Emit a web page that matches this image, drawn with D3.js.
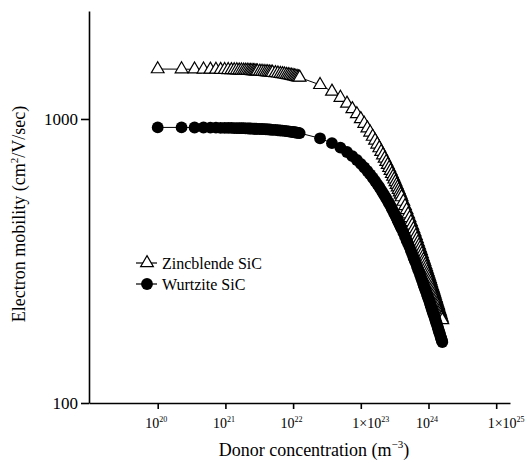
<!DOCTYPE html>
<html>
<head>
<meta charset="utf-8">
<script src="https://cdn.jsdelivr.net/npm/d3@7"></script>
<style>
  body { margin: 0; background: #fff; }
  svg text { font-family: "Liberation Serif", "Times New Roman", Times, "DejaVu Serif", serif !important; fill: #000 !important; }
</style>
</head>
<body>
<svg id="chart" width="530" height="463"></svg>
<script>
// donor concentration, first run (units of 1e20 m^-3)
const lowN = [1, 2.25, 3.5, 4.75, 6, 7.25, 8.5, 9.75, 11, 12.25, 13.5, 14.75, 16, 17.25,
  18.5, 19.75, 21, 22.25, 23.5, 24.75, 26, 27.25, 28.5, 29.75, 32.25, 34.75, 37.25, 39.75,
  42.25, 44.75, 47.25, 49.75, 54.75, 59.75, 64.75, 69.75, 74.75, 79.75, 84.75, 89.75,
  94.75, 99.75, 104.75, 109.75, 114.75, 119.75];
const zincLow = [1499, 1498, 1496, 1495, 1494, 1493, 1491, 1490, 1489, 1488, 1487, 1486,
  1484, 1483, 1482, 1481, 1480, 1479, 1478, 1477, 1476, 1474, 1473, 1472, 1470, 1468, 1466,
  1464, 1462, 1460, 1458, 1456, 1452, 1448, 1444, 1440, 1436, 1432, 1429, 1425, 1421, 1418,
  1414, 1410, 1407, 1403];
const wurtzLow = [934, 934, 933, 933, 932, 932, 931, 931, 930, 930, 929, 929, 928, 928, 928,
  927, 927, 926, 926, 925, 925, 924, 924, 923, 922, 922, 921, 920, 919, 918, 917, 916, 915,
  913, 911, 910, 908, 906, 905, 903, 901, 900, 898, 896, 895, 893];

// donor concentration, second run (units of 1e22 m^-3)
const highN = [1.25, 2.5, 3.75, 5, 6.25, 7.5, 8.75, 10, 11.25, 12.5, 13.75, 15, 16.25, 17.5,
  18.75, 20, 21.25, 22.5, 23.75, 25, 26.25, 27.5, 28.75, 30, 31.25, 32.5, 33.75, 35, 36.25,
  37.5, 38.75, 40, 42.5, 45, 47.5, 50, 52.5, 55, 57.5, 60, 62.5, 65, 67.5, 70, 72.5, 75, 77.5,
  80, 82.5, 85, 87.5, 90, 92.5, 95, 97.5, 100, 102.5, 105, 107.5, 110, 112.5, 115, 117.5, 120,
  122.5, 125, 127.5, 130, 132.5, 135, 137.5, 140, 142.5, 145, 147.5, 150, 152.5, 155, 157.5, 160];
const zincHigh = [1400, 1319, 1250, 1189, 1134, 1085, 1041, 1000, 963, 928, 897, 867, 840,
  814, 790, 767, 746, 726, 707, 690, 673, 657, 641, 627, 613, 600, 587, 575, 563, 552, 542, 531,
  512, 494, 478, 462, 448, 434, 422, 410, 399, 388, 378, 368, 359, 351, 343, 335,
  327, 320, 314, 307, 301, 295, 289, 284, 279, 274, 269, 264, 259, 255, 251, 247,
  243, 239, 235, 232, 228, 225, 222, 219, 215, 212, 210, 207, 204, 201, 199, 196];
const wurtzHigh = [892, 855, 822, 793, 765, 740, 717, 695, 675, 656, 638, 621, 605, 590, 576,
  562, 549, 537, 526, 514, 504, 494, 484, 474, 465, 457, 448, 440, 433, 425, 418, 411,
  398, 386, 374, 364, 354, 344, 335, 326, 318, 311, 303, 296, 290, 283, 277, 271,
  266, 260, 255, 250, 246, 241, 237, 233, 229, 225, 221, 217, 214, 210, 207, 204,
  201, 198, 195, 192, 190, 187, 184, 182, 179, 177, 175, 172, 170, 168, 166, 164];

const xTickExp = [20, 21, 22, 23, 24, 25];
const xTickPrefix = ["10", "10", "10", "1×10", "10", "1×10"];
const yTicks = [100, 1000];
const seriesNames = ["Zincblende SiC", "Wurtzite SiC"];

const zinc = lowN.map((n, i) => ({ n: n * 1e20, mu: zincLow[i] }))
  .concat(highN.map((n, i) => ({ n: n * 1e22, mu: zincHigh[i] })));
const wurtz = lowN.map((n, i) => ({ n: n * 1e20, mu: wurtzLow[i] }))
  .concat(highN.map((n, i) => ({ n: n * 1e22, mu: wurtzHigh[i] })));

const serif = "'Liberation Serif', 'Times New Roman', Times, serif";
const svg = d3.select("#chart").style("font-family", serif);

const x = d3.scaleLog().domain([Math.pow(10, 18.985), Math.pow(10, 25.204)]).range([89, 510]);
const y = d3.scaleLog().domain([100, 2400]).range([403, 11]);

// axes
const xAxis = svg.append("g")
  .attr("transform", "translate(0,403)")
  .call(d3.axisBottom(x)
    .tickValues(xTickExp.map((e) => Math.pow(10, e)))
    .tickFormat("")
    .tickSize(6)
    .tickSizeOuter(0));
xAxis.attr("font-family", null);
xAxis.selectAll("path, line").attr("stroke", "#000").attr("stroke-width", 1.6);

xAxis.selectAll(".tick")
  .append("text")
  .attr("y", 25)
  .attr("x", (d, i) => (xTickPrefix[i] === "10" ? -13 : -9))
  .attr("text-anchor", "start")
  .style("font-family", serif)
  .style("font-size", "14px")
  .each(function (d, i) {
    const t = d3.select(this);
    t.append("tspan").text(xTickPrefix[i]);
    t.append("tspan").attr("dy", -6).style("font-size", "8px").text(xTickExp[i]);
  });

const yAxis = svg.append("g")
  .attr("transform", "translate(89,0)")
  .call(d3.axisLeft(y)
    .tickValues(yTicks)
    .tickFormat(d3.format("d"))
    .tickSize(8)
    .tickSizeOuter(0)
    .tickPadding(3));
yAxis.attr("font-family", null);
yAxis.selectAll("path, line").attr("stroke", "#000").attr("stroke-width", 1.6);
yAxis.selectAll("text")
  .style("font-size", "17px")
  .style("font-family", serif);

// axis titles
const xTitle = svg.append("text")
  .attr("x", 314)
  .attr("y", 456)
  .attr("text-anchor", "middle")
  .style("font-family", serif)
  .style("font-size", "18px");
xTitle.append("tspan").text("Donor concentration (m");
xTitle.append("tspan").attr("dy", -8).style("font-size", "11px").text("−3");
xTitle.append("tspan").attr("dy", 8).text(")");

const yTitle = svg.append("text")
  .attr("transform", "translate(25,214) rotate(-90)")
  .attr("text-anchor", "middle")
  .style("font-family", serif)
  .style("font-size", "18px");
yTitle.append("tspan").text("Electron mobility (cm");
yTitle.append("tspan").attr("dy", -7).style("font-size", "11px").text("2");
yTitle.append("tspan").attr("dy", 7).text("/V/sec)");

// series
const line = d3.line().x((d) => x(d.n)).y((d) => y(d.mu));
const triangle = d3.symbol().type(d3.symbolTriangle).size(70);
const circle = d3.symbol().type(d3.symbolCircle).size(110);

svg.append("path").datum(zinc)
  .attr("fill", "none").attr("stroke", "#000").attr("stroke-width", 1)
  .attr("d", line);
svg.append("g").selectAll("path")
  .data(zinc)
  .join("path")
  .attr("transform", (d) => `translate(${x(d.n)},${y(d.mu)})`)
  .attr("d", triangle)
  .attr("fill", "#fff")
  .attr("stroke", "#000")
  .attr("stroke-width", 1.2);

svg.append("path").datum(wurtz)
  .attr("fill", "none").attr("stroke", "#000").attr("stroke-width", 1)
  .attr("d", line);
svg.append("g").selectAll("path")
  .data(wurtz)
  .join("path")
  .attr("transform", (d) => `translate(${x(d.n)},${y(d.mu)})`)
  .attr("d", circle)
  .attr("fill", "#000");

// legend
const legend = svg.append("g").attr("transform", "translate(136,263)");
seriesNames.forEach((name, i) => {
  const row = legend.append("g").attr("transform", `translate(0,${i * 21})`);
  row.append("line").attr("x1", 0).attr("x2", 21).attr("stroke", "#000").attr("stroke-width", 1.2);
  row.append("path")
    .attr("transform", "translate(11,0)")
    .attr("d", i === 0 ? triangle : circle)
    .attr("fill", i === 0 ? "#fff" : "#000")
    .attr("stroke", "#000")
    .attr("stroke-width", i === 0 ? 1.2 : 0);
  row.append("text")
    .attr("x", 26)
    .attr("y", 6)
    .style("font-family", serif)
    .style("font-size", "16px")
    .text(name);
});
</script>
</body>
</html>
